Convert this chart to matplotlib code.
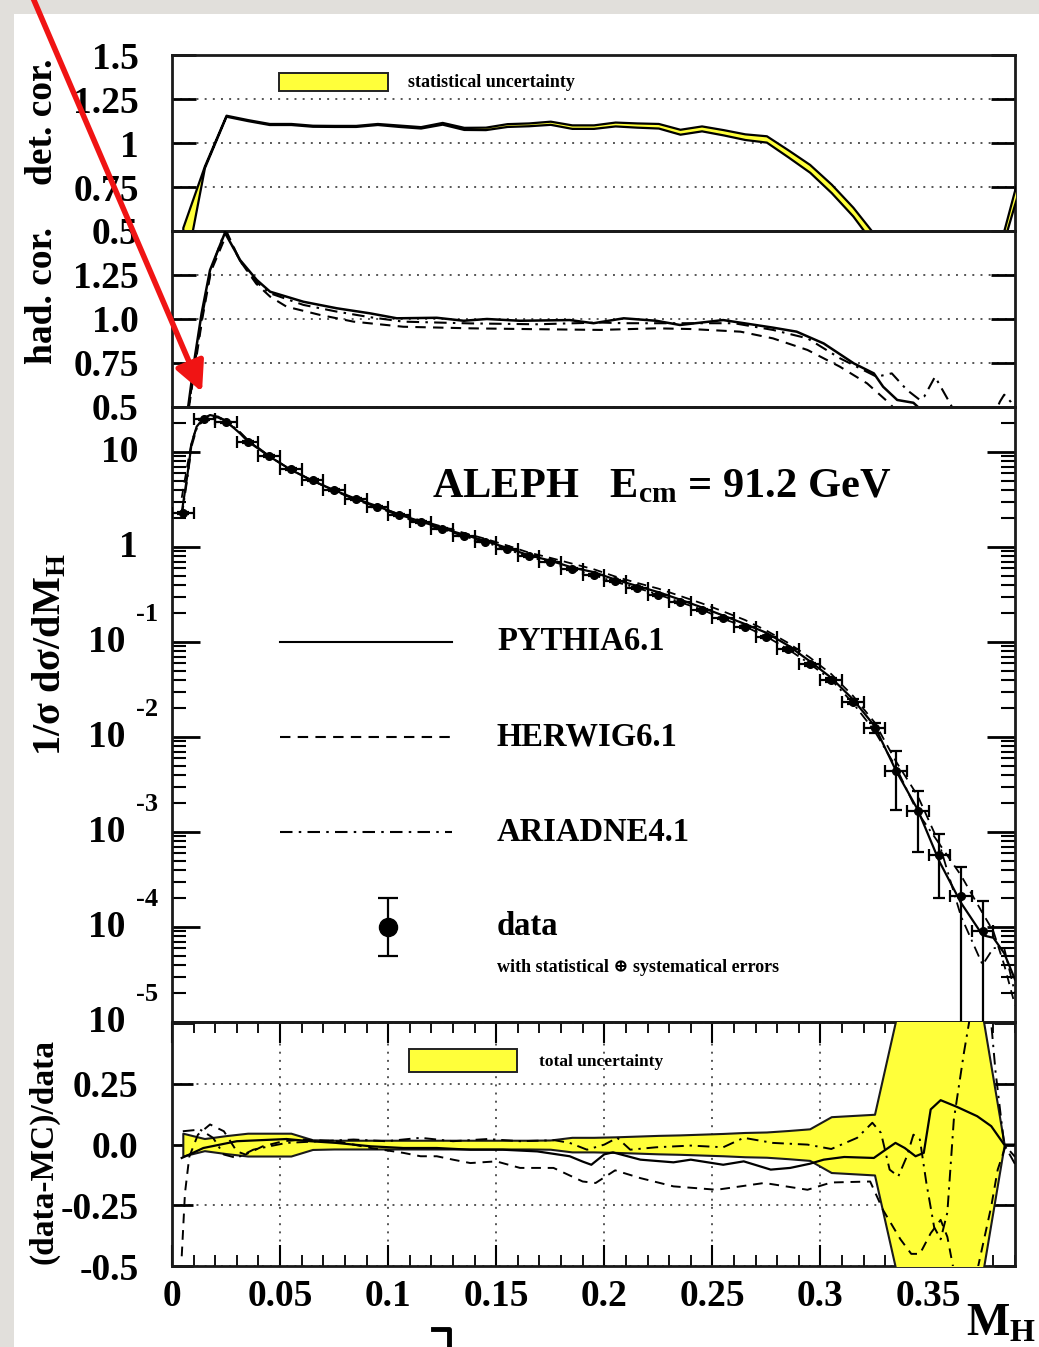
import numpy as np
import matplotlib
matplotlib.use('Agg')
import matplotlib.pyplot as plt
from matplotlib.patches import Rectangle, FancyArrowPatch
from matplotlib.lines import Line2D
from matplotlib.ticker import LogLocator, MultipleLocator, NullFormatter, FixedLocator
import matplotlib.transforms as mtrans

plt.rcParams['font.family'] = ['Liberation Serif', 'DejaVu Serif']
plt.rcParams['font.weight'] = 'bold'
plt.rcParams['mathtext.fontset'] = 'custom'
plt.rcParams['mathtext.rm'] = 'Liberation Serif:bold'
plt.rcParams['mathtext.it'] = 'Liberation Serif:italic:bold'
plt.rcParams['mathtext.bf'] = 'Liberation Serif:bold'

# ---------------- data ----------------
# detector correction (top panel)
det_m = [0.005, 0.015, 0.025, 0.035, 0.045, 0.055, 0.065, 0.075, 0.085, 0.095,
         0.105, 0.115, 0.125, 0.135, 0.145, 0.155, 0.165, 0.175, 0.185, 0.195,
         0.205, 0.215, 0.225, 0.235, 0.245, 0.255, 0.265, 0.275, 0.285, 0.295,
         0.305, 0.315, 0.325, 0.335, 0.345, 0.355, 0.365, 0.375, 0.385, 0.395]
det_v = [0.37, 0.865, 1.155, 1.13, 1.108, 1.108, 1.098, 1.097, 1.097, 1.108,
         1.098, 1.089, 1.112, 1.083, 1.083, 1.102, 1.106, 1.115, 1.093, 1.093,
         1.108, 1.102, 1.098, 1.064, 1.083, 1.061, 1.036, 1.023, 0.941, 0.856,
         0.742, 0.61, 0.45, 0.30, 0.20, 0.20, 0.20, 0.20, 0.48, 0.92]
det_e = [0.15, 0.005, 0.003, 0.003, 0.003, 0.003, 0.003, 0.003, 0.003, 0.003,
         0.004, 0.004, 0.005, 0.006, 0.007, 0.008, 0.008, 0.009, 0.010, 0.010,
         0.011, 0.012, 0.013, 0.014, 0.014, 0.015, 0.016, 0.018, 0.020, 0.022,
         0.024, 0.025, 0.030, 0.030, 0.030, 0.030, 0.030, 0.030, 0.030, 0.050]

# hadronisation correction (second panel)
had_py_m = [0.006, 0.0076, 0.0106, 0.0137, 0.0176, 0.0245, 0.0315, 0.0392, 0.0454, 0.0608,
            0.0762, 0.0917, 0.104, 0.1225, 0.135, 0.1457, 0.161, 0.184, 0.195, 0.209,
            0.224, 0.235, 0.255, 0.278, 0.289, 0.3015, 0.3154, 0.3247, 0.329, 0.3355,
            0.343, 0.346]
had_py_v = [0.40, 0.511, 0.786, 1.032, 1.278, 1.49, 1.335, 1.222, 1.155, 1.098,
            1.061, 1.032, 1.004, 1.007, 0.99, 1.0, 0.99, 0.994, 0.976, 1.004,
            0.99, 0.966, 0.994, 0.951, 0.928, 0.861, 0.748, 0.691, 0.615, 0.54,
            0.524, 0.49]
had_hw_m = [0.0065, 0.008, 0.011, 0.014, 0.018, 0.0255, 0.0315, 0.039, 0.0454, 0.053,
            0.0685, 0.084, 0.107, 0.138, 0.169, 0.198, 0.224, 0.24, 0.263, 0.278,
            0.294, 0.309, 0.3216, 0.332, 0.337]
had_hw_v = [0.40, 0.51, 0.76, 1.0, 1.27, 1.49, 1.33, 1.20, 1.127, 1.07,
            1.023, 0.985, 0.956, 0.947, 0.942, 0.938, 0.947, 0.943, 0.928, 0.89,
            0.824, 0.729, 0.634, 0.52, 0.45]
had_ar_m = [0.0065, 0.008, 0.011, 0.014, 0.018, 0.0245, 0.0315, 0.039, 0.0454, 0.0608,
            0.0762, 0.0917, 0.107, 0.138, 0.169, 0.198, 0.209, 0.224, 0.26, 0.278,
            0.294, 0.309, 0.326, 0.333, 0.34, 0.346, 0.348, 0.353, 0.36, 0.365,
            0.375, 0.383, 0.385, 0.388, 0.392]
had_ar_v = [0.42, 0.52, 0.78, 1.02, 1.28, 1.50, 1.33, 1.21, 1.146, 1.08,
            1.042, 1.01, 0.985, 0.975, 0.97, 0.98, 0.976, 0.976, 0.976, 0.938,
            0.89, 0.777, 0.672, 0.691, 0.597, 0.54, 0.559, 0.672, 0.52, 0.40,
            0.30, 0.53, 0.57, 0.53, 0.45]

# main distribution
bin_c = [0.005, 0.015, 0.025, 0.035, 0.045, 0.055, 0.065, 0.075, 0.085, 0.095,
         0.105, 0.115, 0.125, 0.135, 0.145, 0.155, 0.165, 0.175, 0.185, 0.195,
         0.205, 0.215, 0.225, 0.235, 0.245, 0.255, 0.265, 0.275, 0.285, 0.295,
         0.305, 0.315, 0.325, 0.335, 0.345, 0.355, 0.365, 0.375]
bin_hw = 0.005
dsig = [2.30, 22.1, 20.5, 12.8, 9.08, 6.62, 5.07, 3.98, 3.20, 2.66,
        2.17, 1.83, 1.56, 1.32, 1.14, 0.96, 0.80, 0.70, 0.586, 0.507,
        0.439, 0.370, 0.313, 0.262, 0.217, 0.177, 0.145, 0.114, 0.0838, 0.0586,
        0.0398, 0.0236, 0.0124, 0.00442, 0.00166, 0.000573, 0.000212, 0.000091]
dsig_err = [0.05, 0.40, 0.35, 0.20, 0.14, 0.10, 0.08, 0.06, 0.05, 0.04,
            0.035, 0.03, 0.025, 0.022, 0.02, 0.016, 0.014, 0.012, 0.010, 0.009,
            0.008, 0.007, 0.006, 0.005, 0.0045, 0.004, 0.0035, 0.003, 0.0025, 0.002,
            0.0016, 0.0015, 0.0015, 0.0027, 0.00105, 0.00037, 0.00022, 0.000095]

mc_m = [0.0045, 0.007, 0.0091, 0.0114, 0.0145, 0.0176, 0.0214, 0.0253, 0.0315, 0.035,
        0.045, 0.055, 0.065, 0.075, 0.085, 0.095, 0.105, 0.115, 0.125, 0.135,
        0.145, 0.155, 0.165, 0.175, 0.185, 0.195, 0.205, 0.215, 0.225, 0.235,
        0.245, 0.255, 0.265, 0.275, 0.285, 0.295, 0.305, 0.315, 0.325, 0.335,
        0.345, 0.355, 0.365, 0.375, 0.38, 0.385, 0.39]
pythia_main = [2.3, 5.5, 12.4, 18.5, 22.6, 24.5, 23.5, 20.9, 15.7, 13.0,
               9.0, 6.5, 5.0, 3.97, 3.22, 2.69, 2.20, 1.86, 1.58, 1.35,
               1.16, 0.98, 0.82, 0.72, 0.61, 0.545, 0.455, 0.39, 0.335, 0.28,
               0.232, 0.19, 0.155, 0.125, 0.092, 0.063, 0.042, 0.025, 0.0131, 0.0044,
               0.00172, 0.00049, 0.00018, 0.000082, 0.000077, 0.000053, 0.000028]
herwig_main = [3.3, 7.0, 13.0, 18.0, 21.5, 23.5, 23.0, 20.5, 16.0, 13.3,
               9.0, 6.5, 4.98, 3.93, 3.2, 2.68, 2.22, 1.91, 1.64, 1.41,
               1.22, 1.04, 0.875, 0.77, 0.67, 0.585, 0.49, 0.42, 0.365, 0.306,
               0.256, 0.21, 0.171, 0.132, 0.098, 0.069, 0.046, 0.0272, 0.0143, 0.0055,
               0.0024, 0.00075, 0.00035, 0.00014, 0.00009, 0.00004, 0.000015]
ariadne_main = [2.1, 5.0, 11.5, 17.5, 22.0, 24.5, 23.5, 21.2, 16.2, 13.5,
                9.1, 6.5, 5.0, 3.92, 3.13, 2.62, 2.14, 1.78, 1.54, 1.30,
                1.12, 0.945, 0.79, 0.69, 0.58, 0.507, 0.43, 0.372, 0.316, 0.263,
                0.22, 0.175, 0.146, 0.114, 0.084, 0.059, 0.040, 0.0228, 0.0116, 0.0048,
                0.0016, 0.00075, 0.00013, 0.00004, 0.00006, 0.00006, 0.00002]

# ratio panel
tot_m = [0.005, 0.015, 0.025, 0.035, 0.045, 0.055, 0.065, 0.075, 0.085, 0.095,
         0.105, 0.115, 0.125, 0.135, 0.145, 0.155, 0.165, 0.175, 0.185, 0.195,
         0.205, 0.215, 0.225, 0.235, 0.245, 0.255, 0.265, 0.275, 0.285, 0.295,
         0.305, 0.315, 0.325, 0.335, 0.345, 0.355, 0.365, 0.375, 0.385]
tot_unc = [0.047, 0.025, 0.037, 0.047, 0.047, 0.047, 0.020, 0.018, 0.018, 0.018,
           0.018, 0.018, 0.018, 0.018, 0.018, 0.018, 0.018, 0.019, 0.030, 0.030,
           0.032, 0.035, 0.038, 0.040, 0.043, 0.046, 0.050, 0.052, 0.058, 0.065,
           0.115, 0.120, 0.125, 0.52, 0.90, 1.40, 1.10, 0.53, 0.0]
py_r_m = [0.0045, 0.008, 0.0145, 0.03, 0.053, 0.064, 0.076, 0.092, 0.107, 0.1225,
          0.138, 0.153, 0.169, 0.184, 0.19, 0.194, 0.2, 0.204, 0.2167, 0.232,
          0.24, 0.255, 0.2645, 0.277, 0.286, 0.295, 0.3015, 0.311, 0.3247, 0.329,
          0.3347, 0.339, 0.344, 0.3478, 0.351, 0.3556, 0.363, 0.3725, 0.379, 0.385,
          0.39]
py_r_v = [-0.055, -0.041, -0.014, 0.014, 0.023, 0.014, 0.007, -0.007, -0.014, -0.014,
          -0.021, -0.021, -0.028, -0.048, -0.07, -0.083, -0.04, -0.032, -0.062, -0.073,
          -0.062, -0.083, -0.069, -0.103, -0.096, -0.079, -0.062, -0.051, -0.055, -0.028,
          0.007, -0.014, -0.048, -0.034, 0.145, 0.183, 0.156, 0.117, 0.076, 0.0,
          0.0]
hw_r_m = [0.0045, 0.006, 0.008, 0.012, 0.0176, 0.024, 0.03, 0.034, 0.042, 0.0515,
          0.061, 0.076, 0.092, 0.107, 0.115, 0.1225, 0.13, 0.138, 0.150, 0.161,
          0.1765, 0.19, 0.196, 0.205, 0.2167, 0.232, 0.252, 0.274, 0.294, 0.305,
          0.323, 0.329, 0.337, 0.342, 0.346, 0.351, 0.3556, 0.3587, 0.3617, 0.366,
          0.3725, 0.379, 0.382, 0.3856, 0.388, 0.39]
hw_r_v = [-0.46, -0.20, -0.05, 0.041, 0.083, 0.055, -0.028, -0.041, -0.007, 0.014,
          0.021, 0.014, -0.014, -0.034, -0.048, -0.048, -0.062, -0.076, -0.069, -0.096,
          -0.096, -0.152, -0.158, -0.106, -0.138, -0.172, -0.186, -0.158, -0.186, -0.156,
          -0.152, -0.27, -0.39, -0.45, -0.45, -0.365, -0.31, -0.38, -0.52, -0.70,
          -0.52, -0.255, -0.103, -0.007, -0.03, -0.05]
ar_r_m = [0.005, 0.013, 0.019, 0.024, 0.03, 0.0376, 0.045, 0.053, 0.0685, 0.084,
          0.099, 0.115, 0.13, 0.146, 0.161, 0.177, 0.184, 0.192, 0.2, 0.206,
          0.212, 0.224, 0.24, 0.255, 0.2645, 0.278, 0.294, 0.305, 0.317, 0.324,
          0.328, 0.332, 0.336, 0.34, 0.343, 0.346, 0.349, 0.3526, 0.3556, 0.3587,
          0.3617, 0.3664, 0.3687, 0.375, 0.381, 0.385, 0.39]
ar_r_v = [0.055, 0.062, 0.028, -0.041, -0.055, -0.021, -0.007, 0.007, 0.014, 0.021,
          0.014, 0.028, 0.014, 0.023, 0.014, 0.018, 0.007, -0.021, 0.0, 0.028,
          -0.021, -0.011, -0.004, -0.011, 0.028, 0.007, 0.0, -0.018, 0.028, 0.09,
          0.048, -0.103, -0.131, -0.048, 0.041, 0.021, -0.158, -0.34, -0.39, -0.28,
          0.103, 0.38, 0.50, 0.90, 0.30, 0.0, -0.08]

# tick labels
x_ticks = [0, 0.05, 0.1, 0.15, 0.2, 0.25, 0.3, 0.35]
x_ticklabels = ['0', '0.05', '0.1', '0.15', '0.2', '0.25', '0.3', '0.35']
det_ticks = [0.5, 0.75, 1.0, 1.25, 1.5]
det_ticklabels = ['0.5', '0.75', '1', '1.25', '1.5']
had_ticks = [0.5, 0.75, 1.0, 1.25, 1.5]
had_ticklabels = ['0.5', '0.75', '1.0', '1.25', '']
log_ticks = [1e1, 1e0, 1e-1, 1e-2, 1e-3, 1e-4, 1e-5]
log_base = ['10', '1', '10', '10', '10', '10', '10']
log_exp = ['', '', '-1', '-2', '-3', '-4', '-5']
rat_ticks = [-0.5, -0.25, 0.0, 0.25, 0.5]
rat_ticklabels = ['-0.5', '-0.25', '0.0', '0.25', '']

# ---------------- figure ----------------
W, H = 1039, 1347
fig = plt.figure(figsize=(W / 100, H / 100), dpi=100)
fig.patch.set_facecolor('#e1dfdb')
fig.add_artist(Rectangle((14 / W, 0), 1 - 14 / W, 1 - 14 / H, transform=fig.transFigure,
                         facecolor='white', edgecolor='none', zorder=-10))

YEL = '#ffff3a'
TICKFS = 27


def fx(px):
    return px / W


def fy(py):
    return 1 - py / H


L = 172 / W
AW = (1015 - 172) / W


def rect(top, bot):
    return [L, 1 - bot / H, AW, (bot - top) / H]


ax1 = fig.add_axes(rect(55, 231))
ax2 = fig.add_axes(rect(231, 407))
ax3 = fig.add_axes(rect(407, 1022))
ax4 = fig.add_axes(rect(1022, 1266))

for ax in (ax1, ax2, ax3, ax4):
    ax.set_xlim(0, 0.39)
    for s in ax.spines.values():
        s.set_linewidth(2.0)
        s.set_color('#1a1a1a')
    ax.set_facecolor('none')

dotted = dict(ls=(0, (1, 3.2)), color='#555555', lw=1.4)

# ---- panel 1 ----
d_v = np.array(det_v)
d_e = np.array(det_e)
ax1.fill_between(det_m, d_v - d_e, d_v + d_e, facecolor=YEL, edgecolor='black', lw=1.6, zorder=3)
ax1.set_ylim(0.5, 1.5)
ax1.set_yticks(det_ticks)
ax1.set_yticklabels(det_ticklabels)
ax1.yaxis.grid(True, **dotted)
ax1.tick_params(axis='x', bottom=False, labelbottom=False)
ax1.tick_params(axis='y', direction='in', left=True, right=True, length=17, width=2,
                labelsize=TICKFS, pad=24)
ax1.add_patch(Rectangle((0.1269, 0.7955), 0.1293, 0.1022, transform=ax1.transAxes,
                        facecolor=YEL, edgecolor='#222222', lw=1.4, zorder=4))
ax1.text(0.28, 0.846, 'statistical uncertainty', transform=ax1.transAxes, fontsize=13,
         ha='left', va='center', fontweight='bold')

# ---- panel 2 ----
ax2.plot(had_py_m, had_py_v, color='black', lw=1.8, zorder=4)
ax2.plot(had_hw_m, had_hw_v, color='black', lw=1.5, ls=(0, (5, 3.5)), zorder=4)
ax2.plot(had_ar_m, had_ar_v, color='black', lw=1.5, ls=(0, (6, 3, 1.2, 3)), zorder=4)
ax2.set_ylim(0.5, 1.5)
ax2.set_yticks(had_ticks)
ax2.set_yticklabels(had_ticklabels)
ax2.yaxis.grid(True, **dotted)
ax2.tick_params(axis='x', bottom=False, labelbottom=False)
ax2.tick_params(axis='y', direction='in', left=True, right=True, length=17, width=2,
                labelsize=TICKFS, pad=24)

# ---- panel 3 ----
ax3.set_yscale('log')
ax3.set_ylim(1e-5, 29.8)
dsig_a = np.array(dsig)
err_a = np.array(dsig_err)
err_lo = np.minimum(err_a, dsig_a * 0.99999)
ax3.plot(mc_m, pythia_main, color='black', lw=1.6, zorder=3)
ax3.plot(mc_m, herwig_main, color='black', lw=1.3, ls=(0, (5, 3.5)), zorder=3)
ax3.plot(mc_m, ariadne_main, color='black', lw=1.3, ls=(0, (6, 3, 1.2, 3)), zorder=3)
ax3.errorbar(bin_c, dsig, xerr=bin_hw, yerr=[err_lo, err_a], fmt='o', color='black',
             ms=5.5, elinewidth=1.6, capsize=4, capthick=1.6, zorder=5)
ax3.yaxis.set_major_locator(FixedLocator(log_ticks))
ax3.yaxis.set_minor_locator(LogLocator(base=10, subs=np.arange(2, 10), numticks=20))
ax3.yaxis.set_major_formatter(NullFormatter())
ax3.yaxis.set_minor_formatter(NullFormatter())
ax3.tick_params(axis='x', bottom=False, labelbottom=False)
ax3.tick_params(axis='y', which='major', direction='in', left=True, right=True,
                length=20, width=2)
ax3.tick_params(axis='y', which='minor', direction='in', left=True, right=True,
                length=10, width=1.5)
btr = mtrans.blended_transform_factory(ax3.transAxes, ax3.transData)
for v, b, e in zip(log_ticks, log_base, log_exp):
    if e:
        ax3.text(-0.0558, v, b, transform=btr, ha='right', va='center', fontsize=TICKFS,
                 clip_on=False)
        ax3.text(-0.0425, v * 10 ** 0.29, e, transform=btr, ha='left', va='center',
                 fontsize=19, clip_on=False)
    else:
        ax3.text(-0.0403, v, b, transform=btr, ha='right', va='center', fontsize=TICKFS,
                 clip_on=False)

ax3.text(0.3084, 0.8537, r'ALEPH   E$_{\mathrm{cm}}$ = 91.2 GeV', transform=ax3.transAxes,
         fontsize=30.5, ha='left', va='baseline')
leg_y = [0.6179, 0.4634, 0.3089]
leg_styles = ['-', (0, (5, 3.5)), (0, (6, 3, 1.2, 3))]
leg_names = ['PYTHIA6.1', 'HERWIG6.1', 'ARIADNE4.1']
for yy, st, nm in zip(leg_y, leg_styles, leg_names):
    ax3.add_line(Line2D([0.1281, 0.3321], [yy, yy], transform=ax3.transAxes, color='black',
                        lw=1.5, ls=st))
    ax3.text(0.3855, yy, nm, transform=ax3.transAxes, fontsize=23.5, ha='left', va='center')
ax3.errorbar([0.2562], [0.1545], yerr=[[0.0472], [0.0471]], fmt='o', color='black', ms=13,
             elinewidth=1.6, capsize=7, capthick=1.6, transform=ax3.transAxes, clip_on=False)
ax3.text(0.3855, 0.1545, 'data', transform=ax3.transAxes, fontsize=23.5, ha='left',
         va='center')
ax3.text(0.3855, 0.0894, 'with statistical \u2295 systematical errors', transform=ax3.transAxes,
         fontsize=13, ha='left', va='center')

# ---- panel 4 ----
t_u = np.array(tot_unc)
ax4.fill_between(tot_m, -t_u, t_u, facecolor=YEL, edgecolor='#1a1a1a', lw=1.5, zorder=3)
ax4.plot(py_r_m, py_r_v, color='black', lw=1.6, zorder=4)
ax4.plot(hw_r_m, hw_r_v, color='black', lw=1.4, ls=(0, (5, 3.5)), zorder=4)
ax4.plot(ar_r_m, ar_r_v, color='black', lw=1.4, ls=(0, (6, 3, 1.2, 3)), zorder=4)
ax4.set_ylim(-0.5, 0.505)
ax4.set_yticks(rat_ticks)
ax4.set_yticklabels(rat_ticklabels)
ax4.set_xticks(x_ticks)
ax4.set_xticklabels(x_ticklabels)
ax4.xaxis.set_minor_locator(MultipleLocator(0.01))
ax4.grid(True, which='major', **dotted)
ax4.tick_params(axis='y', direction='in', left=True, right=True, length=15, width=2,
                labelsize=TICKFS, pad=24)
ax4.tick_params(axis='x', which='major', direction='in', top=True, bottom=True, length=15,
                width=1.5, labelsize=TICKFS, pad=9)
ax4.tick_params(axis='x', which='minor', direction='in', top=True, bottom=True, length=8,
                width=1.3)
ax4.add_patch(Rectangle((0.2811, 0.7951), 0.1282, 0.0942, transform=ax4.transAxes,
                        facecolor=YEL, edgecolor='#222222', lw=1.4, zorder=5))
ax4.text(0.4353, 0.836, 'total uncertainty', transform=ax4.transAxes, fontsize=12.5,
         ha='left', va='center')

# ---- axis titles ----
fig.text(fx(42), fy(122), 'det. cor.', rotation=90, ha='center', va='center', fontsize=27)
fig.text(fx(42), fy(295), 'had. cor.', rotation=90, ha='center', va='center', fontsize=27)
fig.text(fx(50), fy(655), r'1/σ dσ/dM$_{\mathrm{H}}$', rotation=90, ha='center',
         va='center', fontsize=29)
fig.text(fx(44), fy(1152), '(data-MC)/data', rotation=90, ha='center', va='center',
         fontsize=24)
fig.text(fx(1036), fy(1336), r'M$_{\mathrm{H}}$', ha='right', va='baseline', fontsize=33)

# ---- annotations ----
arrow = FancyArrowPatch(posA=(fx(33), fy(-2)), posB=(fx(202), fy(392)),
                        transform=fig.transFigure, arrowstyle='-|>,head_length=0.9,head_width=0.45',
                        mutation_scale=20, lw=4, color='#f01414', shrinkA=0, shrinkB=0,
                        zorder=20)
fig.add_artist(arrow)
fig.add_artist(Line2D([fx(433), fx(449), fx(449)], [fy(1329), fy(1329), fy(1347)],
                      transform=fig.transFigure, color='black', lw=3.5, zorder=20))

fig.savefig('out.png', dpi=100, facecolor=fig.get_facecolor())
